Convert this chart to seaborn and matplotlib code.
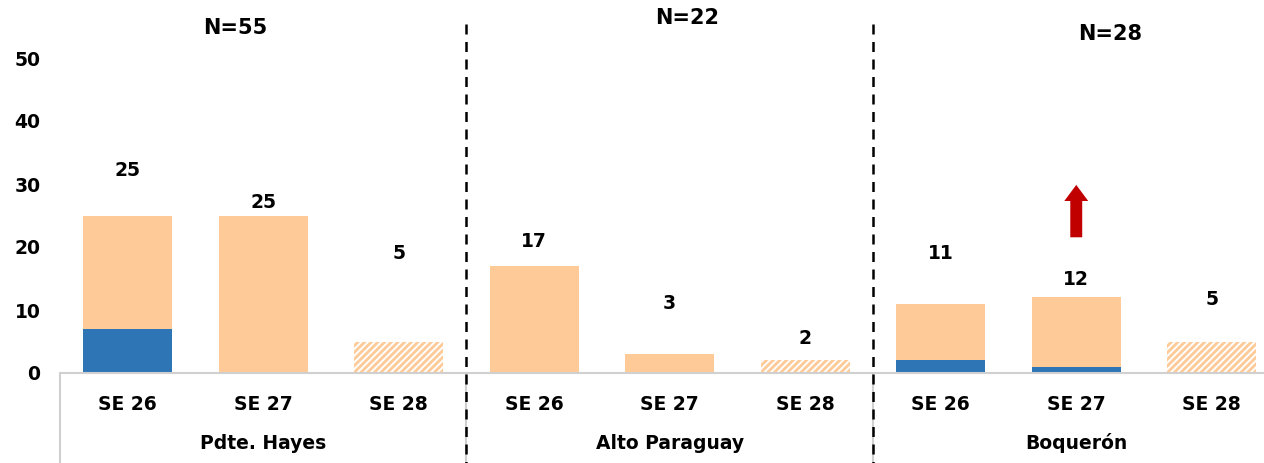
import matplotlib
matplotlib.use("Agg")
import matplotlib.pyplot as plt
import seaborn as sns
import pandas as pd
from matplotlib.patches import FancyArrowPatch

# data
regions = ["Pdte. Hayes", "Alto Paraguay", "Boquerón"]
weeks = ["SE 26", "SE 27", "SE 28"]
totals = [25, 25, 5, 17, 3, 2, 11, 12, 5]
blue_part = [7, 0, 0, 0, 0, 0, 2, 1, 0]
partial = [False, False, True, False, False, True, False, False, True]
n_labels = ["N=55", "N=22", "N=28"]
# manual label placement (as in the original)
label_y = [32.2, 27.0, 19.0, 20.8, 11.1, 5.4, 18.9, 14.8, 11.6]
n_label_x = [0.79, 4.13, 7.25]
n_label_y = [54.8, 56.3, 53.8]

PEACH = "#FECB98"
BLUE = "#2E75B6"
RED = "#C00000"


def main():
    sns.set_theme(style="white")
    plt.rcParams["font.family"] = ["DejaVu Sans"]
    plt.rcParams["hatch.linewidth"] = 2.0

    df = pd.DataFrame({
        "cat": [f"{r}|{w}" for r in regions for w in weeks],
        "week": weeks * len(regions),
        "total": totals,
        "blue": blue_part,
    })

    fig = plt.figure(figsize=(12.64, 4.63), dpi=100)
    ax = fig.add_axes([60 / 1264, 90 / 463, 1219.5 / 1264, 373 / 463])

    sns.barplot(data=df, x="cat", y="total", color=PEACH, width=0.66,
                saturation=1, ax=ax)
    n = len(df)
    for patch, is_partial in zip(ax.patches[:n], partial):
        patch.set_linewidth(0)
        if is_partial:
            patch.set_facecolor("white")
            patch.set_edgecolor(PEACH)
            patch.set_hatch("/////")
    sns.barplot(data=df, x="cat", y="blue", color=BLUE, width=0.66,
                saturation=1, ax=ax)
    for patch in ax.patches[n:]:
        patch.set_linewidth(0)

    for i, (v, y) in enumerate(zip(totals, label_y)):
        ax.text(i, y, str(v), ha="center", va="center", fontsize=13.5,
                fontweight="bold", color="black")

    ax.set_xlim(-0.5, n - 0.5)
    ax.set_ylim(0, 373 / 6.3)
    ax.set_yticks(range(0, 51, 10))
    ax.set_xticks(range(n))
    ax.set_xticklabels(df["week"])
    ax.tick_params(axis="both", length=0, labelsize=13.5)
    ax.tick_params(axis="x", pad=16)
    ax.tick_params(axis="y", pad=14)
    for lab in ax.get_xticklabels() + ax.get_yticklabels():
        lab.set_fontweight("bold")
        lab.set_color("black")
    ax.set_xlabel("")
    ax.set_ylabel("")

    for s in ["top", "right", "left"]:
        ax.spines[s].set_visible(False)
    ax.spines["bottom"].set_color("#D0D0D0")
    ax.spines["bottom"].set_linewidth(1.5)

    trans = ax.get_xaxis_transform()
    # category box lines below axis
    for xb in [-0.5, 2.5, 5.5]:
        ax.plot([xb, xb], [0, -0.25], transform=trans, color="#D0D0D0",
                lw=1.5, clip_on=False)
    # dashed group separators
    for xb in [2.5, 5.5]:
        ax.plot([xb, xb], [0.935, -0.25], transform=trans, color="black",
                lw=1.8, ls=(0, (4, 3)), clip_on=False)

    for g, reg in enumerate(regions):
        ax.text(g * 3 + 1, -0.188, reg, transform=trans, ha="center",
                va="center", fontsize=13.5, fontweight="bold", color="black")
    for nl, nx, ny in zip(n_labels, n_label_x, n_label_y):
        ax.text(nx, ny, nl, ha="center", va="center", fontsize=15,
                fontweight="bold", color="black")

    arrow = FancyArrowPatch((7, 21.1), (7, 30.3),
                            arrowstyle="simple,head_length=0.58,head_width=0.86,tail_width=0.43",
                            mutation_scale=20, color=RED, lw=0)
    ax.add_patch(arrow)

    plt.savefig("out.png", dpi=100)


if __name__ == "__main__":
    main()
